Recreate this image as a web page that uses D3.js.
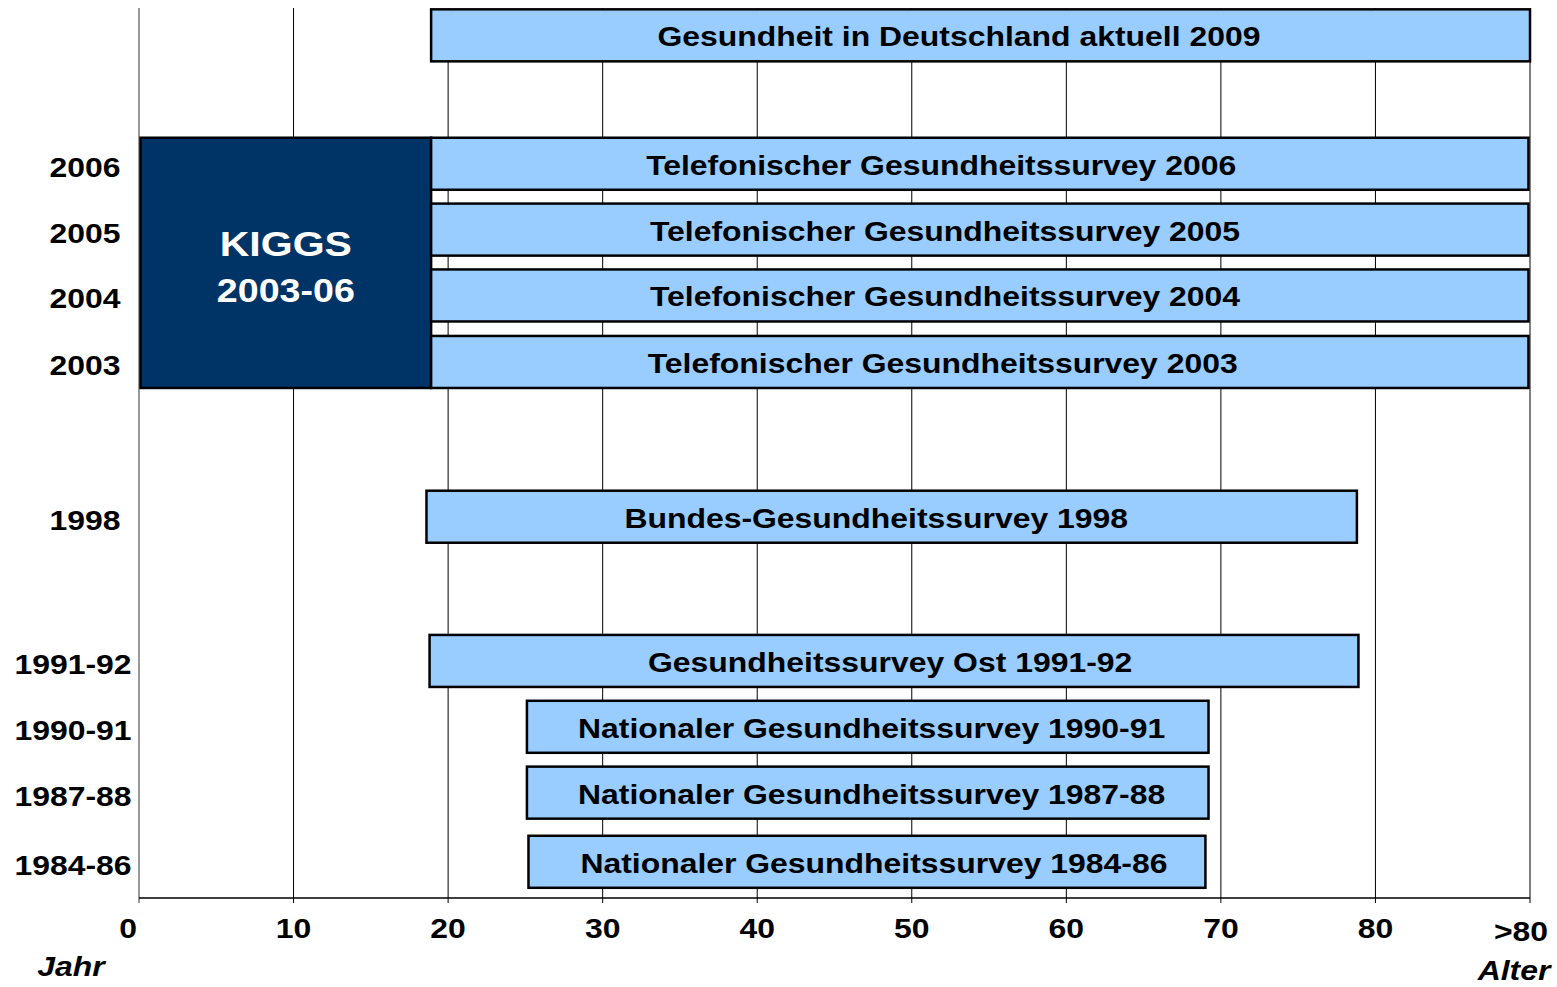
<!DOCTYPE html>
<html>
<head>
<meta charset="utf-8">
<script src="https://cdn.jsdelivr.net/npm/d3@7"></script>
<style>
  body { margin: 0; background: #fff; }
  svg { display: block; font-family: "Liberation Sans", Arial, sans-serif; }
</style>
</head>
<body>
<div id="chart"></div>
<script>
// survey names, age ranges and the row (year) they belong to
const surveyNames = [
  "Gesundheit in Deutschland aktuell 2009",
  "Telefonischer Gesundheitssurvey 2006",
  "Telefonischer Gesundheitssurvey 2005",
  "Telefonischer Gesundheitssurvey 2004",
  "Telefonischer Gesundheitssurvey 2003",
  "Bundes-Gesundheitssurvey 1998",
  "Gesundheitssurvey Ost 1991-92",
  "Nationaler Gesundheitssurvey 1990-91",
  "Nationaler Gesundheitssurvey 1987-88",
  "Nationaler Gesundheitssurvey 1984-86"
];
const ageFrom = [18.9, 18.9, 18.9, 18.9, 18.9, 18.6, 18.8, 25.1, 25.1, 25.2];
const ageTo   = [90, 89.9, 89.9, 89.9, 89.9, 78.8, 78.9, 69.2, 69.2, 69.0];
// age where each bar's label is centred
const labelAge = [53.05, 51.9, 52.15, 52.15, 52.0, 47.7, 48.6, 47.4, 47.4, 47.55];
const yearLabels = ["", "2006", "2005", "2004", "2003", "1998", "1991-92", "1990-91", "1987-88", "1984-86"];
// vertical level of each row on the year axis
const rowLevel = [13.1, 11.15, 10.15, 9.15, 8.14, 5.79, 3.6, 2.6, 1.6, 0.55];

// KIGGS study: children 0-18, years 2003-06
const kiggsAge = [0.1, 18.9];
const kiggsRows = ["2003", "2006"];

const xTickValues = [0, 10, 20, 30, 40, 50, 60, 70, 80, 90];
const xTickLabels = ["0", "10", "20", "30", "40", "50", "60", "70", "80", ">80"];

const width = 1557, height = 987;
const margin = {top: 9, right: 27, bottom: 89, left: 139};
const barSize = 0.79; // bar thickness in row units
const stretch = 1.14; // text in the original is slightly wide

const x = d3.scaleLinear().domain([0, 90]).range([margin.left, width - margin.right]);
const y = d3.scaleLinear().domain([0, 13.5]).range([height - margin.bottom, margin.top]);

const svg = d3.select("#chart").append("svg")
    .attr("width", width)
    .attr("height", height);

// helper for wide bold text
function label(g, tx, ty, str, size) {
  return g.append("text")
      .attr("transform", `translate(${tx},${ty}) scale(${stretch},1)`)
      .attr("text-anchor", "middle")
      .attr("font-size", size + "px")
      .attr("font-weight", "bold")
      .text(str);
}

// vertical grid lines
svg.append("g")
  .selectAll("line")
  .data(xTickValues.slice(1))
  .join("line")
    .attr("x1", d => x(d)).attr("x2", d => x(d))
    .attr("y1", y(13.5) - 1).attr("y2", y(0) + 5)
    .attr("stroke", "#000")
    .attr("stroke-width", 1);

// left axis line
svg.append("line")
    .attr("x1", x(0)).attr("x2", x(0))
    .attr("y1", y(13.5) - 1).attr("y2", y(0) + 5)
    .attr("stroke", "#777").attr("stroke-width", 1.5);

// bottom axis line
svg.append("line")
    .attr("x1", x(0)).attr("x2", x(90))
    .attr("y1", y(0)).attr("y2", y(0))
    .attr("stroke", "#000").attr("stroke-width", 1.5);

// x tick labels (first and last sit a bit off their line)
const tickG = svg.append("g");
xTickValues.forEach((v, i) => {
  let last = i === xTickValues.length - 1;
  let shift = i === 0 ? -11 : (last ? -9 : 0);
  label(tickG, x(v) + shift, y(0) + (last ? 43 : 40), xTickLabels[i], 28);
});

label(svg, 71, 976, "Jahr", 28).attr("font-style", "italic");
label(svg, 1514, 980, "Alter", 28).attr("font-style", "italic");

// year labels on the left
const yearG = svg.append("g");
yearLabels.forEach((d, i) => {
  if (!d) return;
  let cx = d.length > 4 ? 73 : 85;
  label(yearG, cx, y(rowLevel[i]) + 13, d, 28);
});

// KIGGS block
const kTop = y(rowLevel[yearLabels.indexOf(kiggsRows[1])] + barSize / 2);
const kBot = y(rowLevel[yearLabels.indexOf(kiggsRows[0])] - barSize / 2);
svg.append("rect")
    .attr("x", x(kiggsAge[0]))
    .attr("y", kTop)
    .attr("width", x(kiggsAge[1]) - x(kiggsAge[0]))
    .attr("height", kBot - kTop)
    .attr("fill", "#003366")
    .attr("stroke", "#000")
    .attr("stroke-width", 2.5);

const kx = (x(kiggsAge[0]) + x(kiggsAge[1])) / 2;
label(svg, kx, 256, "KIGGS", 36).attr("fill", "#fff");
label(svg, kx, 302, "2003-06", 33).attr("fill", "#fff");

// survey bars
const bars = svg.append("g");
surveyNames.forEach((d, i) => {
  bars.append("rect")
      .attr("x", x(ageFrom[i]))
      .attr("y", y(rowLevel[i] + barSize / 2))
      .attr("width", x(ageTo[i]) - x(ageFrom[i]))
      .attr("height", y(0) - y(barSize))
      .attr("fill", "#99ccff")
      .attr("stroke", "#000")
      .attr("stroke-width", 2.5);
  label(bars, x(labelAge[i]), y(rowLevel[i]) + 11, d, 28);
});
</script>
</body>
</html>
